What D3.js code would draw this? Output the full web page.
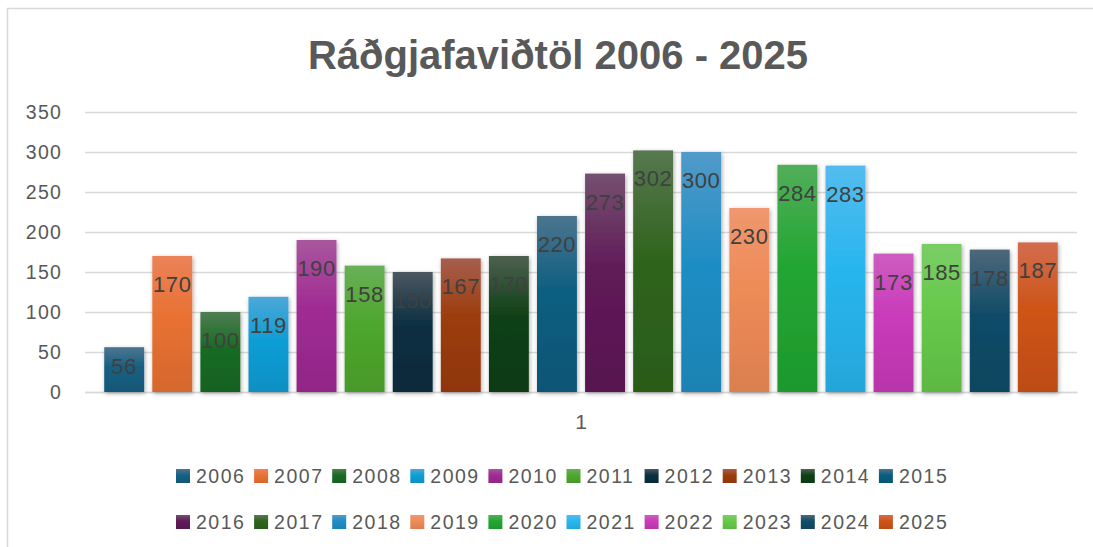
<!DOCTYPE html>
<html>
<head>
<meta charset="utf-8">
<script src="https://cdn.jsdelivr.net/npm/d3@7"></script>
<style>
  html, body { margin: 0; padding: 0; background: #fff; }
  svg { display: block; font-family: "Liberation Sans", Arial, sans-serif; }
</style>
</head>
<body>
<svg id="chart" width="1093" height="547"></svg>
<script>
// Ráðgjafaviðtöl per year, single category "1"
const categories = ['1'];
const years = ['2006', '2007', '2008', '2009', '2010', '2011', '2012', '2013', '2014', '2015',
               '2016', '2017', '2018', '2019', '2020', '2021', '2022', '2023', '2024', '2025'];
const values = [56, 170, 100, 119, 190, 158, 150, 167, 170, 220,
                273, 302, 300, 230, 284, 283, 173, 185, 178, 187];
const colors = ['#156082', '#E97132', '#196B24', '#0F9ED5', '#A02B93', '#4EA72E',
                '#0A2F41', '#9C3C0C', '#0F4016', '#095E80', '#601A58', '#2F641C',
                '#1F8EC4', '#EE8B57', '#22A632', '#28B6EE', '#C93BBA', '#66C94A',
                '#114C68', '#CE5416'];
const yTicks = [0, 50, 100, 150, 200, 250, 300, 350];
const title = 'Ráðgjafaviðtöl 2006 - 2025';

const svg = d3.select('#chart');
const margin = { top: 112, right: 16, bottom: 155, left: 85 };
const width = 1093, height = 547;

// chart frame
svg.append('rect')
  .attr('x', 7.5).attr('y', 8.5)
  .attr('width', 1120).attr('height', 600)
  .attr('fill', '#fff')
  .attr('stroke', '#d9d9d9')
  .attr('stroke-width', 1.5);

// helpers for the Excel-like gradient
const toLin = c => { c /= 255; return c <= 0.04045 ? c / 12.92 : Math.pow((c + 0.055) / 1.055, 2.4); };
const toSrgb = c => { const v = c <= 0.0031308 ? c * 12.92 : 1.055 * Math.pow(c, 1 / 2.4) - 0.055; return Math.round(Math.max(0, Math.min(1, v)) * 255); };
function tint(hex, t) {
  const c = d3.rgb(hex);
  return d3.rgb(toSrgb(toLin(c.r) + t * (1 - toLin(c.r))),
                toSrgb(toLin(c.g) + t * (1 - toLin(c.g))),
                toSrgb(toLin(c.b) + t * (1 - toLin(c.b)))).formatHex();
}
function shade(hex, k) {
  const c = d3.rgb(hex);
  return d3.rgb(toSrgb(toLin(c.r) * k), toSrgb(toLin(c.g) * k), toSrgb(toLin(c.b) * k)).formatHex();
}

const defs = svg.append('defs');
years.forEach((yr, i) => {
  const g = defs.append('linearGradient')
    .attr('id', 'grad' + yr)
    .attr('x1', 0).attr('y1', 0).attr('x2', 0).attr('y2', 1);
  g.append('stop').attr('offset', '0%').attr('stop-color', tint(colors[i], 0.07));
  g.append('stop').attr('offset', '45%').attr('stop-color', colors[i]);
  g.append('stop').attr('offset', '100%').attr('stop-color', shade(colors[i], 0.82));
});

const shadow = defs.append('filter')
  .attr('id', 'shadow')
  .attr('x', '-30%').attr('y', '-10%').attr('width', '160%').attr('height', '120%');
shadow.append('feDropShadow')
  .attr('dx', 1).attr('dy', 1.5)
  .attr('stdDeviation', 2.2)
  .attr('flood-color', '#000')
  .attr('flood-opacity', 0.33);

// title
svg.append('text')
  .attr('x', 558).attr('y', 69)
  .attr('text-anchor', 'middle')
  .attr('font-size', 40)
  .attr('font-weight', 'bold')
  .attr('fill', '#595959')
  .text(title);

// scales
const y = d3.scaleLinear()
  .domain([0, 350])
  .range([height - margin.bottom, margin.top]);

const x0 = d3.scaleBand()
  .domain(categories)
  .range([margin.left, width - margin.right]);

const x1 = d3.scaleBand()
  .domain(years)
  .range([0, x0.bandwidth()])
  .paddingInner(0.17)
  .paddingOuter(0.4);

// y axis + gridlines
const yAxis = svg.append('g')
  .attr('transform', `translate(${margin.left},0)`)
  .call(d3.axisLeft(y)
    .tickValues(yTicks)
    .tickSize(-(width - margin.right - margin.left))
    .tickPadding(23));
yAxis.select('.domain').remove();
yAxis.selectAll('.tick line')
  .attr('stroke', '#d9d9d9')
  .attr('stroke-width', 1.5);
yAxis.selectAll('.tick text')
  .attr('font-size', 19.5)
  .attr('letter-spacing', 1.2)
  .attr('fill', '#595959')
  .style('font-family', '"Liberation Sans", Arial, sans-serif');

// x axis
const xAxis = svg.append('g')
  .attr('transform', `translate(0,${y(0)})`)
  .call(d3.axisBottom(x0).tickSize(0).tickPadding(22));
xAxis.select('.domain').attr('stroke', '#d9d9d9').attr('stroke-width', 1.5);
xAxis.selectAll('.tick text')
  .attr('font-size', 21)
  .attr('fill', '#595959')
  .style('font-family', '"Liberation Sans", Arial, sans-serif');

// bars
const group = svg.append('g')
  .selectAll('g')
  .data(categories)
  .join('g')
  .attr('transform', d => `translate(${x0(d)},0)`);

const barData = years.map((yr, i) => ({ year: yr, value: values[i] }));

group.selectAll('rect')
  .data(barData)
  .join('rect')
  .attr('x', d => x1(d.year))
  .attr('y', d => y(d.value))
  .attr('width', x1.bandwidth())
  .attr('height', d => y(0) - y(d.value))
  .attr('fill', d => `url(#grad${d.year})`)
  .attr('filter', 'url(#shadow)');

// data labels, inside end
group.selectAll('text.label')
  .data(barData)
  .join('text')
  .attr('class', 'label')
  .attr('x', d => x1(d.year) + x1.bandwidth() / 2)
  .attr('y', d => Math.min(y(d.value) + 36, y(0) - 18))
  .attr('text-anchor', 'middle')
  .attr('font-size', 22)
  .attr('letter-spacing', 0.6)
  .attr('fill', '#404040')
  .text(d => d.value);

// legend, two rows
const legend = svg.append('g');
const legendItems = legend.selectAll('g')
  .data(barData)
  .join('g')
  .attr('transform', (d, i) => `translate(${176 + (i % 10) * 78.1},${i < 10 ? 483 : 529})`);

legendItems.append('rect')
  .attr('x', 0).attr('y', -14)
  .attr('width', 14).attr('height', 14)
  .attr('fill', d => `url(#grad${d.year})`);

legendItems.append('text')
  .attr('x', 20).attr('y', 0)
  .attr('font-size', 19.5)
  .attr('letter-spacing', 1.5)
  .attr('fill', '#595959')
  .text(d => d.year);
</script>
</body>
</html>
